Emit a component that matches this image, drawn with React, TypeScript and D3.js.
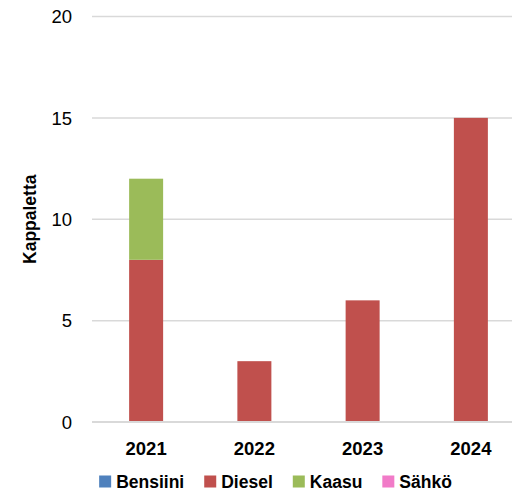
import React, { useEffect, useRef } from "react";
import * as d3 from "d3";

const years = ["2021", "2022", "2023", "2024"];
const seriesNames = ["Bensiini", "Diesel", "Kaasu", "Sähkö"];
const bensiini = [0, 0, 0, 0];
const diesel = [8, 3, 6, 15];
const kaasu = [4, 0, 0, 0];
const sahko = [0, 0, 0, 0];
const yTicks = [0, 5, 10, 15, 20];
const colors = ["#4F81BD", "#C0504D", "#9BBB59", "#F17BC8"];
const yTitle = "Kappaletta";

export default function App() {
  const ref = useRef<SVGSVGElement>(null);
  useEffect(() => {
    const svg = d3.select(ref.current);
    svg.selectAll("*").remove();
    const W = 512;
    const font = "'Liberation Sans', Arial, sans-serif";

    const x = d3.scaleBand<string>().domain(years).range([92, 525]).padding(0);
    const y = d3.scaleLinear().domain([0, 20]).range([422, 16.5]);
    const barW = 34;

    svg.append("g").selectAll("line").data(yTicks.filter((t) => t !== 0)).join("line")
      .attr("x1", 92).attr("x2", W).attr("y1", (d) => y(d)).attr("y2", (d) => y(d))
      .attr("stroke", "#D9D9D9").attr("stroke-width", 1.5);

    const table = years.map((yr, i) => ({
      year: yr, Bensiini: bensiini[i], Diesel: diesel[i], Kaasu: kaasu[i], "Sähkö": sahko[i],
    }));
    const stack = d3.stack<any>().keys(seriesNames)(table);
    stack.forEach((layer, li) => {
      svg.append("g").selectAll("rect").data(layer).join("rect")
        .attr("x", (d: any) => (x(d.data.year) as number) + x.bandwidth() / 2 - barW / 2)
        .attr("width", barW)
        .attr("y", (d: any) => y(d[1]))
        .attr("height", (d: any) => Math.max(0, y(d[0]) - y(d[1])))
        .attr("fill", colors[li]);
    });

    svg.append("line").attr("x1", 92).attr("x2", W).attr("y1", y(0)).attr("y2", y(0))
      .attr("stroke", "#D9D9D9").attr("stroke-width", 2.2);

    svg.append("g").selectAll("text").data(yTicks).join("text")
      .attr("x", 72).attr("y", (d) => y(d)).attr("dy", "0.36em")
      .attr("text-anchor", "end").attr("font-family", font).attr("font-size", 18.5)
      .attr("fill", "#000").text((d) => String(d));

    svg.append("g").selectAll("text").data(years).join("text")
      .attr("x", (d) => (x(d) as number) + x.bandwidth() / 2).attr("y", 455)
      .attr("text-anchor", "middle").attr("font-family", font).attr("font-size", 18.5)
      .attr("font-weight", "bold").attr("fill", "#000").text((d) => d);

    svg.append("text")
      .attr("transform", `translate(35.5,${y(10)}) rotate(-90)`)
      .attr("text-anchor", "middle").attr("font-family", font).attr("font-size", 17.5)
      .attr("font-weight", "bold").attr("fill", "#000").text(yTitle);

    const lg = svg.append("g");
    let cx = 0;
    seriesNames.forEach((name, i) => {
      const g = lg.append("g").attr("transform", `translate(${cx},0)`);
      g.append("rect").attr("x", 0).attr("y", 475.5).attr("width", 12).attr("height", 12).attr("fill", colors[i]);
      const t = g.append("text").attr("x", 17).attr("y", 487.5).attr("font-family", font)
        .attr("font-size", 17.5).attr("font-weight", "bold").attr("fill", "#000").text(name);
      const tw = (t.node() as SVGTextElement).getComputedTextLength();
      cx += 17 + tw + 20;
    });
    const total = cx - 20;
    lg.attr("transform", `translate(${275.5 - total / 2},0)`);
  }, []);
  return (
    <svg ref={ref} width={512} height={490} style={{ position: "absolute", left: 0, top: 0, background: "#fff" }} />
  );
}
